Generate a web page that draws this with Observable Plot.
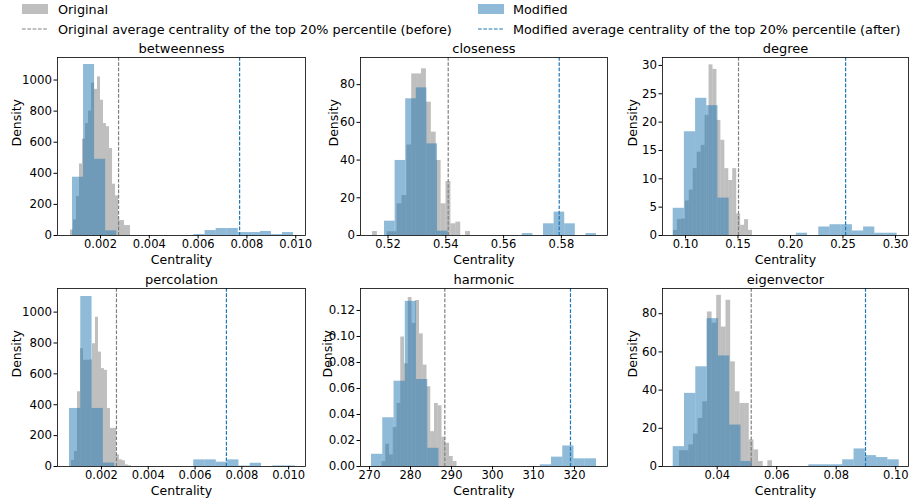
<!DOCTYPE html>
<html><head><meta charset="utf-8">
<script src="https://cdn.jsdelivr.net/npm/d3@7"></script>
<script src="https://cdn.jsdelivr.net/npm/@observablehq/plot@0.6"></script>
<style>
html,body{margin:0;padding:0;background:#fff;}
#root{position:relative;width:914px;height:503px;overflow:hidden;font-family:"DejaVu Sans",sans-serif;color:#000;}
.lg{position:absolute;font-size:12.8px;line-height:15px;white-space:nowrap;}
svg.plot{max-width:none!important;}
</style></head><body>
<div id="root">
  <div style="position:absolute;left:22px;top:4px;width:26px;height:10px;background:rgba(128,128,128,0.5)"></div>
  <div class="lg" style="left:58px;top:1.5px">Original</div>
  <div style="position:absolute;left:478px;top:4px;width:26px;height:10px;background:rgba(31,119,180,0.5)"></div>
  <div class="lg" style="left:513px;top:1.5px">Modified</div>
  <svg style="position:absolute;left:0;top:0" width="914" height="40">
    <line x1="22" x2="48" y1="29" y2="29" stroke="#808080" stroke-width="1" stroke-dasharray="3.7,1.6"/>
    <line x1="478" x2="504" y1="29" y2="29" stroke="#1f77b4" stroke-width="1" stroke-dasharray="3.7,1.6"/>
  </svg>
  <div class="lg" style="left:58px;top:21.5px">Original average centrality of the top 20% percentile (before)</div>
  <div class="lg" style="left:513px;top:21.5px">Modified average centrality of the top 20% percentile (after)</div>
</div>
<script>
// ---------------- data ----------------
const panelTitles = ["betweenness", "closeness", "degree", "percolation", "harmonic", "eigenvector"];

const betweennessOrigRange = [0.00077, 0.00323];
const betweennessOrigDensity = [35,100,250,460,620,720,800,980,940,1020,870,720,700,560,330,255,96,96,64,64];
const betweennessModRange = [0.000852, 0.00991];
const betweennessModDensity = [375,1100,490,30,0,0,0,0,0,0,0,6,32,45,45,19,19,26,6,19];
const betweennessAvg = [0.00274, 0.0077];

const closenessOrigRange = [0.51464, 0.54855];
const closenessOrigDensity = [2.1,0,0,2,2,16.8,21.2,48,85.7,85.7,88.4,70.7,54.8,39.8,16.8,28.6,6.2,7.1,0,2.1];
const closenessModRange = [0.51879, 0.59215];
const closenessModDensity = [7.6,39.8,72.5,78.3,48.6,2.3,0,0,0,0,0,0,0,1,0,6.2,12.4,6.2,0,1];
const closenessAvg = [0.54083, 0.57924];

const degreeOrigRange = [0.08857, 0.16381];
const degreeOrigDensity = [0.9,2.8,2.9,6.1,8,11.8,14.7,15.9,21.2,30.1,29.3,20.3,16.8,11.8,9.7,11.8,3.8,1.8,2.8,0.9];
const degreeModRange = [0.08829, 0.30162];
const degreeModDensity = [4.8,18.3,24.2,22.9,6.6,0,0,0,0,0,0,0.4,0,1.5,1.9,1.9,0.8,1.5,0.4,0.4];
const degreeAvg = [0.1505, 0.2525];

const percolationOrigRange = [0.000718, 0.00328];
const percolationOrigDensity = [40,97,484,763,688,688,690,795,967,741,634,623,376,247,247,75,43,37,10,5];
const percolationModRange = [0.000632, 0.01029];
const percolationModDensity = [376,1101,376,22,0,0,0,0,0,0,0,43,43,28,43,3,21,0,4,4];
const percolationAvg = [0.00264, 0.00734];

const harmonicOrigRange = [273.05, 291.34];
const harmonicOrigDensity = [0.0038,0.0171,0.0089,0.030,0.0485,0.0996,0.079,0.130,0.110,0.1277,0.102,0.078,0.0613,0.0268,0.0485,0.0467,0.0225,0.0179,0.0077,0.0038];
const harmonicModRange = [270.49, 325.37];
const harmonicModDensity = [0.0094,0.0375,0.0656,0.127,0.0669,0.014,0,0,0,0,0,0,0,0,0,0.0013,0.0072,0.0158,0.0059,0.0059];
const harmonicAvg = [288.37, 319.02];

const eigenvectorOrigRange = [0.02733, 0.05859];
const eigenvectorOrigDensity = [8.3,8.3,11.3,17,25.2,33.9,80.9,75,89.6,73,87,54.8,39.1,33,33,13.9,8.7,2.6,0,3];
const eigenvectorModRange = [0.02521, 0.10118];
const eigenvectorModDensity = [10.4,38.3,52.2,77.4,57.9,21.7,2.6,0,0,0,0,0,0.9,0.9,0.9,3.5,9.2,5.7,4.7,3.5];
const eigenvectorAvg = [0.05143, 0.08985];

// tick labels
const betweennessXTicks = [0.002, 0.004, 0.006, 0.008, 0.010];
const closenessXTicks = [0.52, 0.54, 0.56, 0.58];
const degreeXTicks = [0.10, 0.15, 0.20, 0.25, 0.30];
const percolationXTicks = [0.002, 0.004, 0.006, 0.008, 0.010];
const harmonicXTicks = [270, 280, 290, 300, 310, 320];
const eigenvectorXTicks = [0.04, 0.06, 0.08, 0.10];
const betweennessYTicks = [0, 200, 400, 600, 800, 1000];
const closenessYTicks = [0, 20, 40, 60, 80];
const degreeYTicks = [0, 5, 10, 15, 20, 25, 30];
const percolationYTicks = [0, 200, 400, 600, 800, 1000];
const harmonicYTicks = [0, 0.02, 0.04, 0.06, 0.08, 0.10, 0.12];
const eigenvectorYTicks = [0, 20, 40, 60, 80];

// ---------------- layout ----------------
const colL = [57, 360, 662], colR = [305, 607, 908];
const rowT = [57, 288], rowB = [235, 466];
const root = document.getElementById("root");

function bins(range, dens) {
  const [a, b] = range, w = (b - a) / dens.length;
  return dens.map((d, i) => ({x1: a + i * w, x2: a + (i + 1) * w, y: d}));
}

function panel(o) {
  const L = colL[o.col], R = colR[o.col], T = rowT[o.row], B = rowB[o.row];
  const ml = 62, mr = 8, mt = 30, mb = 38;
  const chart = Plot.plot({
    width: (R - L) + ml + mr, height: (B - T) + mt + mb,
    marginLeft: ml, marginRight: mr, marginTop: mt, marginBottom: mb,
    style: {background: "transparent", fontFamily: "DejaVu Sans", fontSize: "12px", overflow: "visible", color: "black"},
    x: {domain: o.xDomain},
    y: {domain: o.yDomain},
    marks: [
      Plot.rect(bins(o.origRange, o.origDensity), {x1: "x1", x2: "x2", y1: 0, y2: "y", fill: "#808080", fillOpacity: 0.5}),
      Plot.rect(bins(o.modRange, o.modDensity), {x1: "x1", x2: "x2", y1: 0, y2: "y", fill: "#1f77b4", fillOpacity: 0.5}),
      Plot.ruleX([o.avg[0]], {stroke: "#808080", strokeDasharray: "3.7,1.6", strokeWidth: 1.2}),
      Plot.ruleX([o.avg[1]], {stroke: "#1f77b4", strokeDasharray: "3.7,1.6", strokeWidth: 1.2}),
      Plot.frame({stroke: "black", strokeWidth: 0.8}),
      Plot.axisX({ticks: o.xTicks, tickFormat: o.xFmt, tickSize: 3.5, tickPadding: 1, label: null, fontSize: 11.5}),
      Plot.axisY({ticks: o.yTicks, tickFormat: o.yFmt, tickSize: 3.5, tickPadding: 2, label: null, fontSize: 11.8}),
      Plot.text([o.title], {frameAnchor: "top", dy: -14, fontSize: 13}),
      Plot.text(["Density"], {frameAnchor: "left", rotate: -90, dx: o.ylabDx, fontSize: 12.5}),
      Plot.text(["Centrality"], {frameAnchor: "bottom", dy: 28.5, fontSize: 12.5})
    ]
  });
  chart.style.position = "absolute";
  chart.style.left = (L - ml) + "px";
  chart.style.top = (T - mt) + "px";
  root.appendChild(chart);
}

const f3 = d3.format(".3f"), f2 = d3.format(".2f"), fd = d3.format("d");

panel({title: panelTitles[0], col: 0, row: 0, origRange: betweennessOrigRange, origDensity: betweennessOrigDensity,
  modRange: betweennessModRange, modDensity: betweennessModDensity, avg: betweennessAvg,
  xDomain: [0.000238, 0.0104], yDomain: [0, 1145], xTicks: betweennessXTicks, xFmt: f3, yTicks: betweennessYTicks, yFmt: fd, ylabDx: -41});
panel({title: panelTitles[1], col: 1, row: 0, origRange: closenessOrigRange, origDensity: closenessOrigDensity,
  modRange: closenessModRange, modDensity: closenessModDensity, avg: closenessAvg,
  xDomain: [0.51048, 0.59595], yDomain: [0, 94.4], xTicks: closenessXTicks, xFmt: f2, yTicks: closenessYTicks, yFmt: fd, ylabDx: -27});
panel({title: panelTitles[2], col: 2, row: 0, origRange: degreeOrigRange, origDensity: degreeOrigDensity,
  modRange: degreeModRange, modDensity: degreeModDensity, avg: degreeAvg,
  xDomain: [0.0781, 0.3124], yDomain: [0, 31.4], xTicks: degreeXTicks, xFmt: f2, yTicks: degreeYTicks, yFmt: fd, ylabDx: -30});
panel({title: panelTitles[3], col: 0, row: 1, origRange: percolationOrigRange, origDensity: percolationOrigDensity,
  modRange: percolationModRange, modDensity: percolationModDensity, avg: percolationAvg,
  xDomain: [0.00012, 0.01072], yDomain: [0, 1153], xTicks: percolationXTicks, xFmt: f3, yTicks: percolationYTicks, yFmt: fd, ylabDx: -41});
panel({title: panelTitles[4], col: 1, row: 1, origRange: harmonicOrigRange, origDensity: harmonicOrigDensity,
  modRange: harmonicModRange, modDensity: harmonicModDensity, avg: harmonicAvg,
  xDomain: [267.8, 328.05], yDomain: [0, 0.1369], xTicks: harmonicXTicks, xFmt: fd, yTicks: harmonicYTicks, yFmt: f2, ylabDx: -33});
panel({title: panelTitles[5], col: 2, row: 1, origRange: eigenvectorOrigRange, origDensity: eigenvectorOrigDensity,
  modRange: eigenvectorModRange, modDensity: eigenvectorModDensity, avg: eigenvectorAvg,
  xDomain: [0.02161, 0.1043], yDomain: [0, 93.2], xTicks: eigenvectorXTicks, xFmt: f2, yTicks: eigenvectorYTicks, yFmt: fd, ylabDx: -30});
</script>
</body></html>
